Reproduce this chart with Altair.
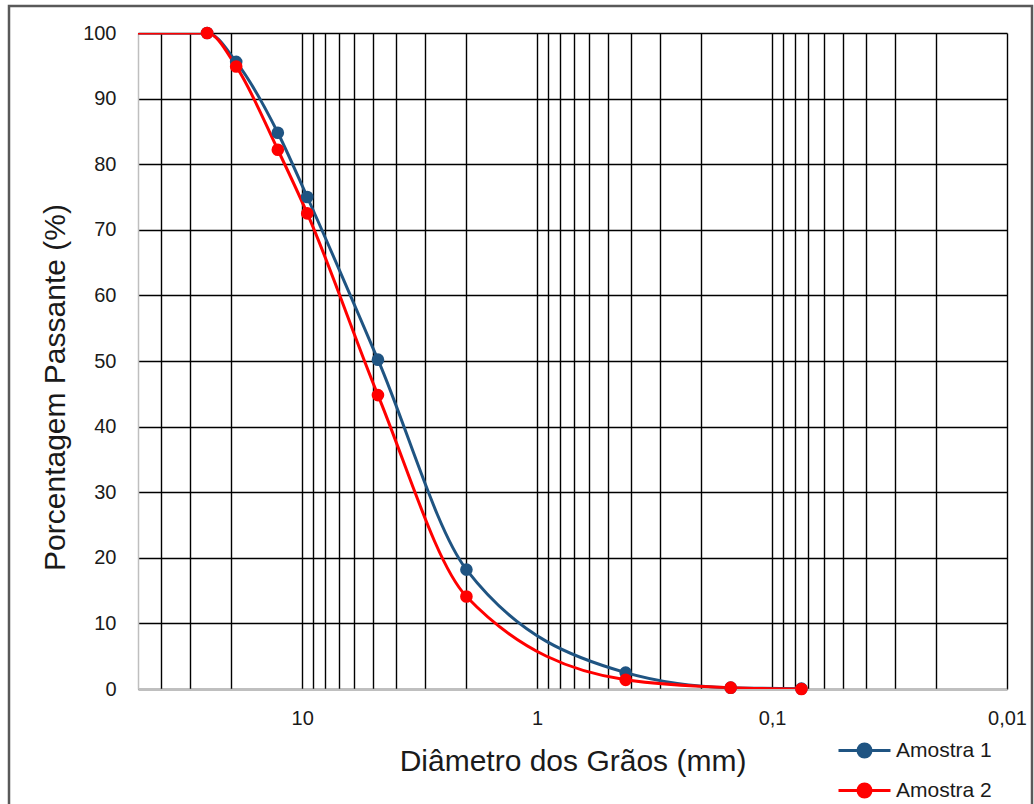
import math
import altair as alt
import pandas as pd

# ---- data ----
diametros = [50.8, 25.4, 19.1, 12.7, 9.52, 4.76, 2.0, 0.42, 0.15, 0.075]  # mm
amostra_1 = [100, 100, 95.6, 84.8, 75.0, 50.2, 18.2, 2.5, 0.2, 0.05]
amostra_2 = [100, 100, 94.9, 82.2, 72.5, 44.8, 14.1, 1.4, 0.2, 0.0]
com_marcador = [False, True, True, True, True, True, True, True, True, True]
series = ["Amostra 1", "Amostra 2"]
cores = ["#1F5482", "#FF0000"]

x_grid = [40, 30, 20, 10, 9, 8, 7, 6, 5, 4, 3, 2, 1,
          0.9, 0.8, 0.7, 0.6, 0.5, 0.4, 0.3, 0.2, 0.1,
          0.09, 0.08, 0.07, 0.06, 0.05, 0.04, 0.03, 0.02, 0.01]
x_rotulos = ["10", "1", "0.1", "0.01"]
y_ticks = list(range(0, 101, 10))

rows = []
for s, vals in zip(series, [amostra_1, amostra_2]):
    for d, v, m in zip(diametros, vals, com_marcador):
        rows.append({"serie": s, "diametro": d, "passante": v, "marcador": m})
df = pd.DataFrame(rows)

# legend symbol: line with a dot in the middle
pts = []
r = 0.25
n = 16
for i in range(n):
    a = 2 * math.pi * i / n
    pts.append(f"{r*math.cos(a):.3f},{r*math.sin(a):.3f}")
sym_path = "M-1,0L1,0M" + "L".join(pts) + "Z"

FONT = "Liberation Sans"

xscale = alt.Scale(type="log", domain=[0.01, 50], reverse=True, nice=False)
yscale = alt.Scale(domain=[0, 100], nice=False)
serie_scale = alt.Scale(domain=series, range=cores)

legenda = alt.Legend(
    title=None, orient="none", legendX=699, legendY=690,
    symbolType=sym_path, symbolSize=2704, symbolStrokeWidth=3,
    labelFont=FONT, labelFontSize=21, labelColor="#1a1a1a",
    labelOffset=4, rowPadding=-14, padding=0,
)

x_axis = alt.Axis(
    values=x_grid,
    labelExpr="indexof(" + str(x_rotulos) + ", toString(datum.value)) >= 0 ? replace(toString(datum.value), '.', ',') : ''",
    title="Diâmetro dos Grãos (mm)", titleFont=FONT, titleFontSize=30,
    titleFontWeight="normal", titleColor="#1a1a1a",
    titleX=434.5, titleY=81, titleAlign="center", titleBaseline="alphabetic",
    labelFont=FONT, labelFontSize=20, labelColor="#1a1a1a", labelPadding=19,
    ticks=False, grid=True, gridColor="#000000", gridWidth=1.4,
    domainColor="#BFBFBF", domainWidth=1.5, labelFlush=False, labelOverlap=False,
)
y_axis = alt.Axis(
    values=y_ticks, title="Porcentagem Passante (%)", titleFont=FONT,
    titleFontSize=30, titleFontWeight="normal", titleColor="#1a1a1a",
    titleX=-74, titleY=354, titleAlign="center", titleBaseline="alphabetic",
    titleAngle=270,
    labelFont=FONT, labelFontSize=20, labelColor="#1a1a1a", labelPadding=22,
    ticks=False, grid=True, gridColor="#000000", gridWidth=1.4,
    domainColor="#BFBFBF", domainWidth=1.5,
)

base = alt.Chart(df)


def linha(serie):
    return base.transform_filter(alt.datum.serie == serie).mark_line(
        interpolate="monotone", strokeWidth=3, clip=True
    ).encode(
        x=alt.X("diametro:Q", scale=xscale, axis=x_axis),
        y=alt.Y("passante:Q", scale=yscale, axis=y_axis),
        stroke=alt.Stroke("serie:N", scale=serie_scale, legend=legenda),
        order=alt.Order("diametro:Q", sort="descending"),
    )


linha1 = linha(series[0])
linha2 = linha(series[1])

pontos = base.transform_filter("datum.marcador").mark_point(
    filled=True, size=160, opacity=1, shape="circle", clip=False, strokeWidth=0
).encode(
    x=alt.X("diametro:Q", scale=xscale, axis=x_axis),
    y=alt.Y("passante:Q", scale=yscale, axis=y_axis),
    fill=alt.Fill("serie:N", scale=serie_scale, legend=legenda),
    stroke=alt.Stroke("serie:N", scale=serie_scale, legend=legenda),
)

moldura = alt.Chart(pd.DataFrame({"k": [0]})).mark_rect(
    filled=False, stroke="#595959", strokeWidth=2.5, clip=False
).encode(
    x=alt.value(9 - 138), x2=alt.value(1032 - 138),
    y=alt.value(6 - 33), y2=alt.value(830 - 33),
)

chart = alt.layer(moldura, linha1, linha2, pontos).properties(
    width=869, height=656,
    padding={"left": 138, "top": 33, "right": 27, "bottom": 115},
    autosize=alt.AutoSizeParams(type="none"),
    background="white",
).configure_view(stroke=None)

chart.save("out.html", embed_options={"renderer": "svg", "actions": False})
